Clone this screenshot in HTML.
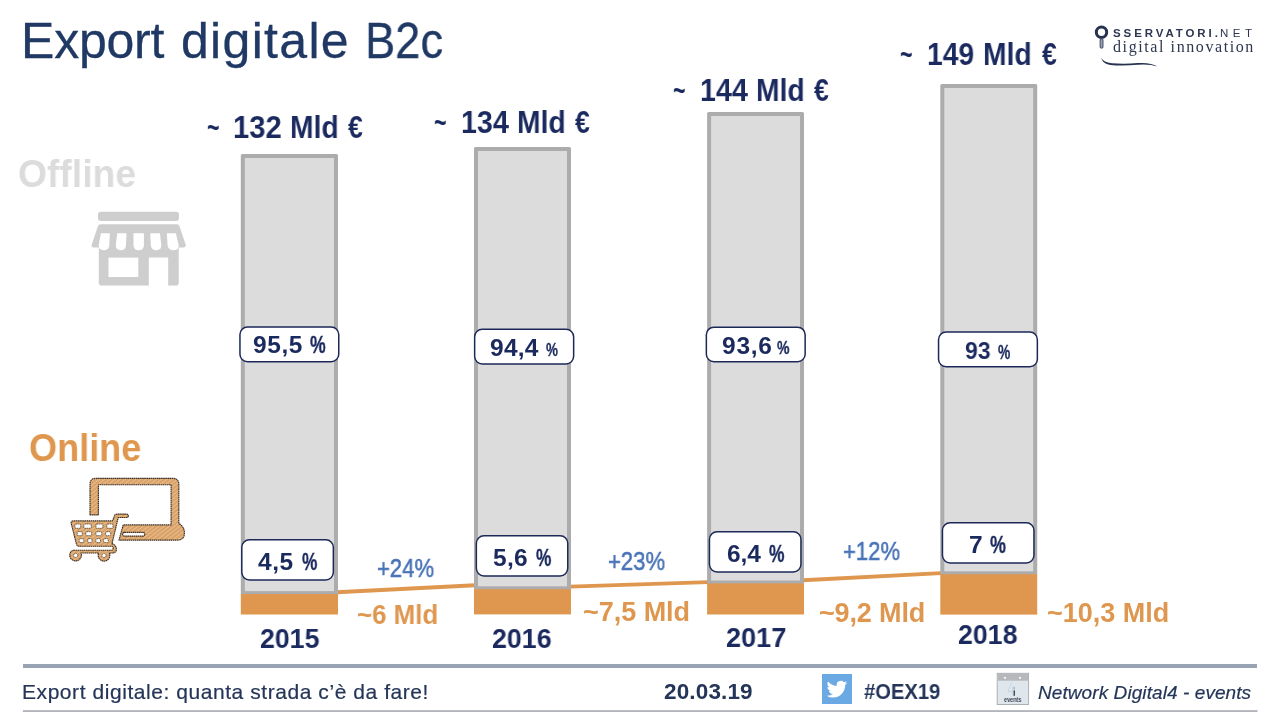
<!DOCTYPE html>
<html lang="it"><head><meta charset="utf-8"><title>Export digitale B2c</title>
<style>
html,body{margin:0;padding:0;background:#fff}
body{width:1280px;height:720px;position:relative;overflow:hidden;font-family:"Liberation Sans",sans-serif}
.a{position:absolute;display:block}
.t{position:absolute;white-space:nowrap;line-height:1;will-change:transform}
.hr{position:absolute;left:22.9px;width:1234.6px}

</style></head><body>
<svg class="a" style="left:0;top:0" width="1280" height="640" viewBox="0 0 1280 640"><g stroke="#df974f" stroke-width="3.8" fill="none"><line x1="337.0" y1="592.25" x2="475.0" y2="585.25"/><line x1="570.0" y1="586.55" x2="708.1" y2="582.05"/><line x1="803.0" y1="580.25" x2="941.3" y2="573.05"/></g><rect x="240.8" y="154.0" width="97.2" height="441.0" rx="1.6" fill="#acacac"/><rect x="244.8" y="158.0" width="89.2" height="433.1" fill="#dcdcdc"/><rect x="240.8" y="594.0" width="97.2" height="20.5" fill="#df974f"/><rect x="474.0" y="147.0" width="97.0" height="443.2" rx="1.6" fill="#acacac"/><rect x="478.0" y="151.0" width="89.0" height="435.3" fill="#dcdcdc"/><rect x="474.0" y="589.2" width="97.0" height="25.2" fill="#df974f"/><rect x="707.1" y="112.0" width="96.9" height="472.4" rx="1.6" fill="#acacac"/><rect x="711.1" y="116.0" width="88.9" height="464.5" fill="#dcdcdc"/><rect x="707.1" y="583.4" width="96.9" height="31.1" fill="#df974f"/><rect x="940.3" y="84.0" width="96.9" height="491.2" rx="1.6" fill="#acacac"/><rect x="944.3" y="88.0" width="88.9" height="483.3" fill="#dcdcdc"/><rect x="940.3" y="574.2" width="96.9" height="40.4" fill="#df974f"/><rect x="239.95" y="326.95" width="98.80" height="34.80" rx="7.6" fill="#fff" stroke="#1b2858" stroke-width="1.5"/><rect x="474.65" y="329.35" width="99.00" height="34.60" rx="7.6" fill="#fff" stroke="#1b2858" stroke-width="1.5"/><rect x="706.35" y="327.15" width="98.80" height="34.60" rx="7.6" fill="#fff" stroke="#1b2858" stroke-width="1.5"/><rect x="938.55" y="332.05" width="98.80" height="34.70" rx="7.6" fill="#fff" stroke="#1b2858" stroke-width="1.5"/><rect x="241.80" y="539.75" width="91.55" height="40.20" rx="7.6" fill="#fff" stroke="#1b2858" stroke-width="1.5"/><rect x="476.35" y="535.75" width="91.40" height="40.20" rx="7.6" fill="#fff" stroke="#1b2858" stroke-width="1.5"/><rect x="709.45" y="531.75" width="91.50" height="40.20" rx="7.6" fill="#fff" stroke="#1b2858" stroke-width="1.5"/><rect x="942.45" y="522.75" width="91.50" height="40.20" rx="7.6" fill="#fff" stroke="#1b2858" stroke-width="1.5"/></svg>
<div class="hr" style="top:664px;height:4px;background:#98a3b4"></div>
<svg class="a" style="left:22px;top:708px" width="1240" height="6" viewBox="22 708 1240 6"><rect x="22.9" y="710.3" width="1234.6" height="1.5" fill="#9ea2aa"/></svg>
<svg class="a" style="left:88px;top:206px" width="100" height="84" viewBox="88 206 100 84">
<g fill="#cecece">
<rect x="98" y="211.8" width="81" height="9.2" rx="3.2"/>
<path d="M100.6 224.3H176.8Q178.8 224.3 179.5 226.2L185.6 244.6Q186.3 247 183.9 247.6H178.7V283.6Q178.7 285.4 176.9 285.4H168.2V257.6H148.8V285.4H100.6Q98.8 285.4 98.8 283.6V247.6H93.5Q91 247 91.8 244.6L97.9 226.2Q98.6 224.3 100.6 224.3Z"/>
</g>
<g fill="#fff">
<rect x="108.5" y="257.6" width="29.8" height="19.4"/>
<path d="M100.9 233.3H109.9L109.2 245.4Q108.8 250.2 103.8 250.2Q98.2 250.2 98.7 245Z"/>
<path d="M117.2 233.3H126.5L125.9 245.4Q125.6 250.2 120.7 250.2Q115.6 250.2 115.8 245Z"/>
<path d="M133.5 233.3H143.9V245.2Q143.9 250.2 138.7 250.2Q133.5 250.2 133.5 245.2Z"/>
<path d="M150.2 233.3H159.9L161.3 245Q161.6 250.2 156.4 250.2Q151.4 250.2 150.9 245.4Z"/>
<path d="M166.8 233.3H175.8L178.7 245Q179.2 250.2 173.6 250.2Q168.6 250.2 167.6 245.4Z"/>
</g></svg>
<svg class="a" style="left:64px;top:472px" width="126" height="94" viewBox="64 472 126 94">
<defs><pattern id="hx" width="3.2" height="3.2" patternUnits="userSpaceOnUse" patternTransform="rotate(-38)"><rect width="3.2" height="3.2" fill="#dca56c"/><rect width="3.2" height="0.9" fill="#e6bd8d"/><rect y="1.9" width="3.2" height="0.5" fill="#d49b61"/></pattern></defs>
<g fill="url(#hx)" stroke="#3c2e20" stroke-width="1.15" stroke-linejoin="round" stroke-dasharray="1.6 0.5">
<path d="M90 514.8V484.4Q90 478.3 96.2 478.3H172.6Q178.8 478.3 178.8 484.4V523.6Q184.4 526.6 184.4 533Q184.4 540.1 177 540.1H119L123.2 524.9H171.1V484.7H98.4V514.8Z"/>
<rect x="122.6" y="532.4" width="22.2" height="3.7" rx="1.8" fill="#fff"/>
<path d="M71.2 523.2Q70.8 520.9 73.2 520.9H112.6L114.6 515.6Q115.2 514.1 116.8 514.1H126.6Q128.3 514.1 128.3 515.8Q128.3 517.5 126.6 517.5H118.2L112 543.6Q116.4 545.4 116.4 549.2Q116.4 553 112 553H109.3A5.8 5.8 0 1 1 98.7 553H81A5.8 5.8 0 1 1 70.6 552.2Q71.8 550.3 74.6 550.2H111.8Q113.2 550.2 113.2 548.2Q113.2 546.2 111.8 546.2H79.4Q77 546.2 76.4 544Z"/>
<g fill="#fff" stroke-width="0.7"><rect x="74.9" y="524.0" width="5.8" height="4.3" rx="1"/><rect x="83.8" y="524.0" width="7.4" height="4.3" rx="1"/><rect x="95.9" y="524.0" width="7.0" height="4.3" rx="1"/><rect x="106.8" y="524.0" width="6.2" height="4.3" rx="1"/><rect x="77.2" y="531.7" width="5.1" height="4.0" rx="1"/><rect x="85.8" y="531.7" width="5.8" height="4.0" rx="1"/><rect x="95.9" y="531.7" width="5.8" height="4.0" rx="1"/><rect x="105.6" y="531.7" width="5.1" height="4.0" rx="1"/><rect x="79.2" y="538.7" width="4.6" height="3.9" rx="1"/><rect x="87.7" y="538.7" width="4.3" height="3.9" rx="1"/><rect x="95.9" y="538.7" width="4.6" height="3.9" rx="1"/><rect x="103.7" y="538.7" width="4.6" height="3.9" rx="1"/>
<circle cx="75.7" cy="555.4" r="2.1"/><circle cx="104" cy="555.4" r="2.1"/></g>
</g></svg>
<svg class="a" style="left:822px;top:674px" width="30" height="30" viewBox="0 0 30 30"><rect width="30" height="30" fill="#6ba9e4"/>
<path transform="translate(4.6 4.9) scale(0.86)" fill="#fff" d="M23.953 4.57a10 10 0 01-2.825.775 4.958 4.958 0 002.163-2.723c-.951.555-2.005.959-3.127 1.184a4.92 4.92 0 00-8.384 4.482C7.69 8.095 4.067 6.13 1.64 3.162a4.822 4.822 0 00-.666 2.475c0 1.71.87 3.213 2.188 4.096a4.904 4.904 0 01-2.228-.616v.06a4.923 4.923 0 003.946 4.827 4.996 4.996 0 01-2.212.085 4.936 4.936 0 004.604 3.417 9.867 9.867 0 01-6.102 2.105c-.39 0-.779-.023-1.17-.067a13.995 13.995 0 007.557 2.209c9.053 0 13.998-7.496 13.998-13.985 0-.21 0-.42-.015-.63A9.935 9.935 0 0024 4.59z"/></svg>
<svg class="a" style="left:996px;top:672px" width="34" height="34" viewBox="996 672 34 34">
<rect x="997.2" y="673.3" width="31.4" height="31.2" fill="#dfe6ec" stroke="#a6a9ad" stroke-width="0.9"/>
<rect x="997.6" y="673.7" width="30.6" height="7" fill="#b6b8bb"/>
<circle cx="1005" cy="677.9" r="1.15" fill="#f4f4f4"/><circle cx="1020" cy="677.9" r="1.15" fill="#f4f4f4"/>
<path d="M1011.4 682.6L1008 691.6H1015.4M1012.6 686.4V695.4" fill="none" stroke="#bdd7e8" stroke-width="0.9"/>
<path d="M1014.2 686.8V690" stroke="#5a6476" stroke-width="0.8" stroke-dasharray="0.8 0.7" fill="none"/>
<rect x="1013.6" y="690.4" width="1.3" height="5.4" fill="#2f3a50"/>
</svg>
<svg class="a" style="left:1090px;top:20px" width="80" height="52" viewBox="1090 20 80 52">
<circle cx="1101.5" cy="32.3" r="5.2" fill="none" stroke="#27324f" stroke-width="3"/>
<rect x="1100.1" y="38.8" width="2.9" height="9.4" rx="1.2" fill="#9aa0ae" stroke="#27324f" stroke-width="0.8"/>
<path d="M1101.4 57.8Q1102.6 62.2 1112 63.2Q1124 64.2 1138 63.0Q1151 62.2 1157.4 66.6Q1150 64.0 1138 64.8Q1122 66.2 1110.4 65.0Q1101.6 63.6 1101.4 57.8Z" fill="#27324f"/>
</svg>
<div class="t" style="left:20.60px;top:16.40px;font-size:50px;letter-spacing:-0.22px;color:#1f3864;-webkit-text-stroke:0.3px #1f3864;">Export</div>
<div class="t" style="left:181.40px;top:16.40px;font-size:50px;letter-spacing:1.31px;color:#1f3864;-webkit-text-stroke:0.3px #1f3864;">digitale</div>
<div class="t" style="left:364.78px;top:16.40px;font-size:50px;letter-spacing:0.00px;color:#1f3864;-webkit-text-stroke:0.3px #1f3864;transform:scaleX(0.906);transform-origin:0 0;">B2c</div>
<div class="t" style="left:17.79px;top:154.10px;font-size:39px;letter-spacing:0.00px;color:#dcdcdc;transform:scaleX(0.956);transform-origin:0 0;font-weight:700;">Offline</div>
<div class="t" style="left:29.06px;top:428.60px;font-size:38.5px;letter-spacing:0.00px;color:#df974f;transform:scaleX(0.938);transform-origin:0 0;font-weight:700;">Online</div>
<div class="t" style="left:206.80px;top:111.90px;font-size:30.5px;letter-spacing:0.00px;color:#1b2a5e;transform:scaleX(0.700);transform-origin:0 0;font-weight:700;">~</div>
<div class="t" style="left:233.29px;top:111.90px;font-size:30.5px;letter-spacing:0.00px;color:#1b2a5e;transform:scaleX(0.956);transform-origin:0 0;font-weight:700;">132</div>
<div class="t" style="left:289.85px;top:111.90px;font-size:30.5px;letter-spacing:0.00px;color:#1b2a5e;transform:scaleX(0.925);transform-origin:0 0;font-weight:700;">Mld</div>
<div class="t" style="left:348.10px;top:111.90px;font-size:30.5px;letter-spacing:0.00px;color:#1b2a5e;transform:scaleX(0.871);transform-origin:0 0;font-weight:700;">€</div>
<div class="t" style="left:434.10px;top:106.80px;font-size:30.5px;letter-spacing:0.00px;color:#1b2a5e;transform:scaleX(0.700);transform-origin:0 0;font-weight:700;">~</div>
<div class="t" style="left:460.61px;top:106.80px;font-size:30.5px;letter-spacing:0.00px;color:#1b2a5e;transform:scaleX(0.936);transform-origin:0 0;font-weight:700;">134</div>
<div class="t" style="left:517.15px;top:106.80px;font-size:30.5px;letter-spacing:0.00px;color:#1b2a5e;transform:scaleX(0.925);transform-origin:0 0;font-weight:700;">Mld</div>
<div class="t" style="left:575.40px;top:106.80px;font-size:30.5px;letter-spacing:0.00px;color:#1b2a5e;transform:scaleX(0.871);transform-origin:0 0;font-weight:700;">€</div>
<div class="t" style="left:673.05px;top:74.90px;font-size:30.5px;letter-spacing:0.00px;color:#1b2a5e;transform:scaleX(0.700);transform-origin:0 0;font-weight:700;">~</div>
<div class="t" style="left:699.56px;top:74.90px;font-size:30.5px;letter-spacing:0.00px;color:#1b2a5e;transform:scaleX(0.936);transform-origin:0 0;font-weight:700;">144</div>
<div class="t" style="left:756.10px;top:74.90px;font-size:30.5px;letter-spacing:0.00px;color:#1b2a5e;transform:scaleX(0.925);transform-origin:0 0;font-weight:700;">Mld</div>
<div class="t" style="left:814.35px;top:74.90px;font-size:30.5px;letter-spacing:0.00px;color:#1b2a5e;transform:scaleX(0.871);transform-origin:0 0;font-weight:700;">€</div>
<div class="t" style="left:900.20px;top:38.90px;font-size:30.5px;letter-spacing:0.00px;color:#1b2a5e;transform:scaleX(0.700);transform-origin:0 0;font-weight:700;">~</div>
<div class="t" style="left:926.73px;top:38.90px;font-size:30.5px;letter-spacing:0.00px;color:#1b2a5e;transform:scaleX(0.925);transform-origin:0 0;font-weight:700;">149</div>
<div class="t" style="left:983.25px;top:38.90px;font-size:30.5px;letter-spacing:0.00px;color:#1b2a5e;transform:scaleX(0.925);transform-origin:0 0;font-weight:700;">Mld</div>
<div class="t" style="left:1041.50px;top:38.90px;font-size:30.5px;letter-spacing:0.00px;color:#1b2a5e;transform:scaleX(0.871);transform-origin:0 0;font-weight:700;">€</div>
<div class="t" style="left:260.00px;top:624.70px;font-size:27.5px;letter-spacing:0.00px;color:#1b2a5e;transform:scaleX(0.971);transform-origin:0 0;font-weight:700;">2015</div>
<div class="t" style="left:492.00px;top:624.70px;font-size:27.5px;letter-spacing:0.00px;color:#1b2a5e;transform:scaleX(0.973);transform-origin:0 0;font-weight:700;">2016</div>
<div class="t" style="left:726.00px;top:623.75px;font-size:27.5px;letter-spacing:0.00px;color:#1b2a5e;transform:scaleX(0.986);transform-origin:0 0;font-weight:700;">2017</div>
<div class="t" style="left:958.00px;top:620.75px;font-size:27.5px;letter-spacing:0.00px;color:#1b2a5e;transform:scaleX(0.972);transform-origin:0 0;font-weight:700;">2018</div>
<div class="t" style="left:356.54px;top:601.90px;font-size:27px;letter-spacing:0.00px;color:#df974f;transform:scaleX(0.958);transform-origin:0 0;font-weight:700;">~6 Mld</div>
<div class="t" style="left:582.60px;top:598.90px;font-size:27px;letter-spacing:-0.03px;color:#df974f;font-weight:700;">~7,5 Mld</div>
<div class="t" style="left:819.40px;top:599.80px;font-size:27px;letter-spacing:-0.15px;color:#df974f;font-weight:700;">~9,2 Mld</div>
<div class="t" style="left:1047.30px;top:599.85px;font-size:27px;letter-spacing:-0.01px;color:#df974f;font-weight:700;">~10,3 Mld</div>
<div class="t" style="left:377.02px;top:555.70px;font-size:25px;letter-spacing:0.00px;color:#4a74b7;-webkit-text-stroke:0.55px #4a74b7;transform:scaleX(0.882);transform-origin:0 0;">+24%</div>
<div class="t" style="left:608.02px;top:548.70px;font-size:25px;letter-spacing:0.00px;color:#4a74b7;-webkit-text-stroke:0.55px #4a74b7;transform:scaleX(0.882);transform-origin:0 0;">+23%</div>
<div class="t" style="left:843.02px;top:538.80px;font-size:25px;letter-spacing:0.00px;color:#4a74b7;-webkit-text-stroke:0.55px #4a74b7;transform:scaleX(0.882);transform-origin:0 0;">+12%</div>
<div class="t" style="left:22.00px;top:680.60px;font-size:21px;letter-spacing:0.56px;color:#243559;-webkit-text-stroke:0.2px #243559;">Export digitale: quanta strada c’è da fare!</div>
<div class="t" style="left:664.40px;top:681.00px;font-size:22.5px;letter-spacing:0.15px;color:#243559;font-weight:700;">20.03.19</div>
<div class="t" style="left:863.60px;top:681.00px;font-size:22.5px;letter-spacing:0.00px;color:#243559;transform:scaleX(0.897);transform-origin:0 0;font-weight:700;">#OEX19</div>
<div class="t" style="left:1037.50px;top:682.60px;font-size:19px;letter-spacing:0.08px;color:#243559;-webkit-text-stroke:0.2px #243559;font-style:italic;">Network Digital4 - events</div>
<div class="t" style="left:1003.60px;top:695.65px;font-size:7px;letter-spacing:0.00px;color:#3a4456;transform:scaleX(0.785);transform-origin:0 0;font-weight:700;">events</div>
<div class="t" style="left:1112.70px;top:27.60px;font-size:11.5px;letter-spacing:2.90px;color:#2d3650;font-weight:700;">SSERVATORI.</div>
<div class="t" style="left:1220.30px;top:27.60px;font-size:11.5px;letter-spacing:4.50px;color:#2d3650;">NET</div>
<div class="t" style="left:1112.70px;top:38.60px;font-size:16px;letter-spacing:1.59px;color:#2d3650;font-family:'Liberation Serif', serif;">digital innovation</div>
<div class="t" style="left:253.10px;top:333.40px;font-size:24.5px;letter-spacing:0.58px;color:#1b2a5e;font-weight:700;">95,5</div>
<div class="t" style="left:310.10px;top:333.40px;font-size:24.5px;letter-spacing:0.00px;color:#1b2a5e;-webkit-text-stroke:0.35px #1b2a5e;transform:scaleX(0.723);transform-origin:0 0;font-weight:700;">%</div>
<div class="t" style="left:489.90px;top:335.50px;font-size:24.5px;letter-spacing:0.26px;color:#1b2a5e;font-weight:700;">94,4</div>
<div class="t" style="left:546.10px;top:339.50px;font-size:19px;letter-spacing:0.00px;color:#1b2a5e;-webkit-text-stroke:0.35px #1b2a5e;transform:scaleX(0.706);transform-origin:0 0;font-weight:700;">%</div>
<div class="t" style="left:721.90px;top:333.50px;font-size:24.5px;letter-spacing:0.75px;color:#1b2a5e;font-weight:700;">93,6</div>
<div class="t" style="left:776.90px;top:337.50px;font-size:19px;letter-spacing:0.00px;color:#1b2a5e;-webkit-text-stroke:0.35px #1b2a5e;transform:scaleX(0.735);transform-origin:0 0;font-weight:700;">%</div>
<div class="t" style="left:965.10px;top:338.80px;font-size:24.5px;letter-spacing:0.00px;color:#1b2a5e;transform:scaleX(0.935);transform-origin:0 0;font-weight:700;">93</div>
<div class="t" style="left:998.20px;top:342.80px;font-size:19.5px;letter-spacing:0.00px;color:#1b2a5e;-webkit-text-stroke:0.35px #1b2a5e;transform:scaleX(0.706);transform-origin:0 0;font-weight:700;">%</div>
<div class="t" style="left:257.90px;top:549.80px;font-size:24.5px;letter-spacing:0.53px;color:#1b2a5e;font-weight:700;">4,5</div>
<div class="t" style="left:301.50px;top:549.80px;font-size:24.5px;letter-spacing:0.00px;color:#1b2a5e;-webkit-text-stroke:0.35px #1b2a5e;transform:scaleX(0.700);transform-origin:0 0;font-weight:700;">%</div>
<div class="t" style="left:492.90px;top:545.80px;font-size:24.5px;letter-spacing:0.28px;color:#1b2a5e;font-weight:700;">5,6</div>
<div class="t" style="left:535.50px;top:545.80px;font-size:24.5px;letter-spacing:0.00px;color:#1b2a5e;-webkit-text-stroke:0.35px #1b2a5e;transform:scaleX(0.700);transform-origin:0 0;font-weight:700;">%</div>
<div class="t" style="left:726.50px;top:541.80px;font-size:24.5px;letter-spacing:-0.12px;color:#1b2a5e;font-weight:700;">6,4</div>
<div class="t" style="left:769.30px;top:541.80px;font-size:24.5px;letter-spacing:0.00px;color:#1b2a5e;-webkit-text-stroke:0.35px #1b2a5e;transform:scaleX(0.705);transform-origin:0 0;font-weight:700;">%</div>
<div class="t" style="left:969.13px;top:532.90px;font-size:24.5px;letter-spacing:0.00px;color:#1b2a5e;transform:scaleX(0.967);transform-origin:0 0;font-weight:700;">7</div>
<div class="t" style="left:989.90px;top:532.90px;font-size:24.5px;letter-spacing:0.00px;color:#1b2a5e;-webkit-text-stroke:0.35px #1b2a5e;transform:scaleX(0.732);transform-origin:0 0;font-weight:700;">%</div>
</body></html>
